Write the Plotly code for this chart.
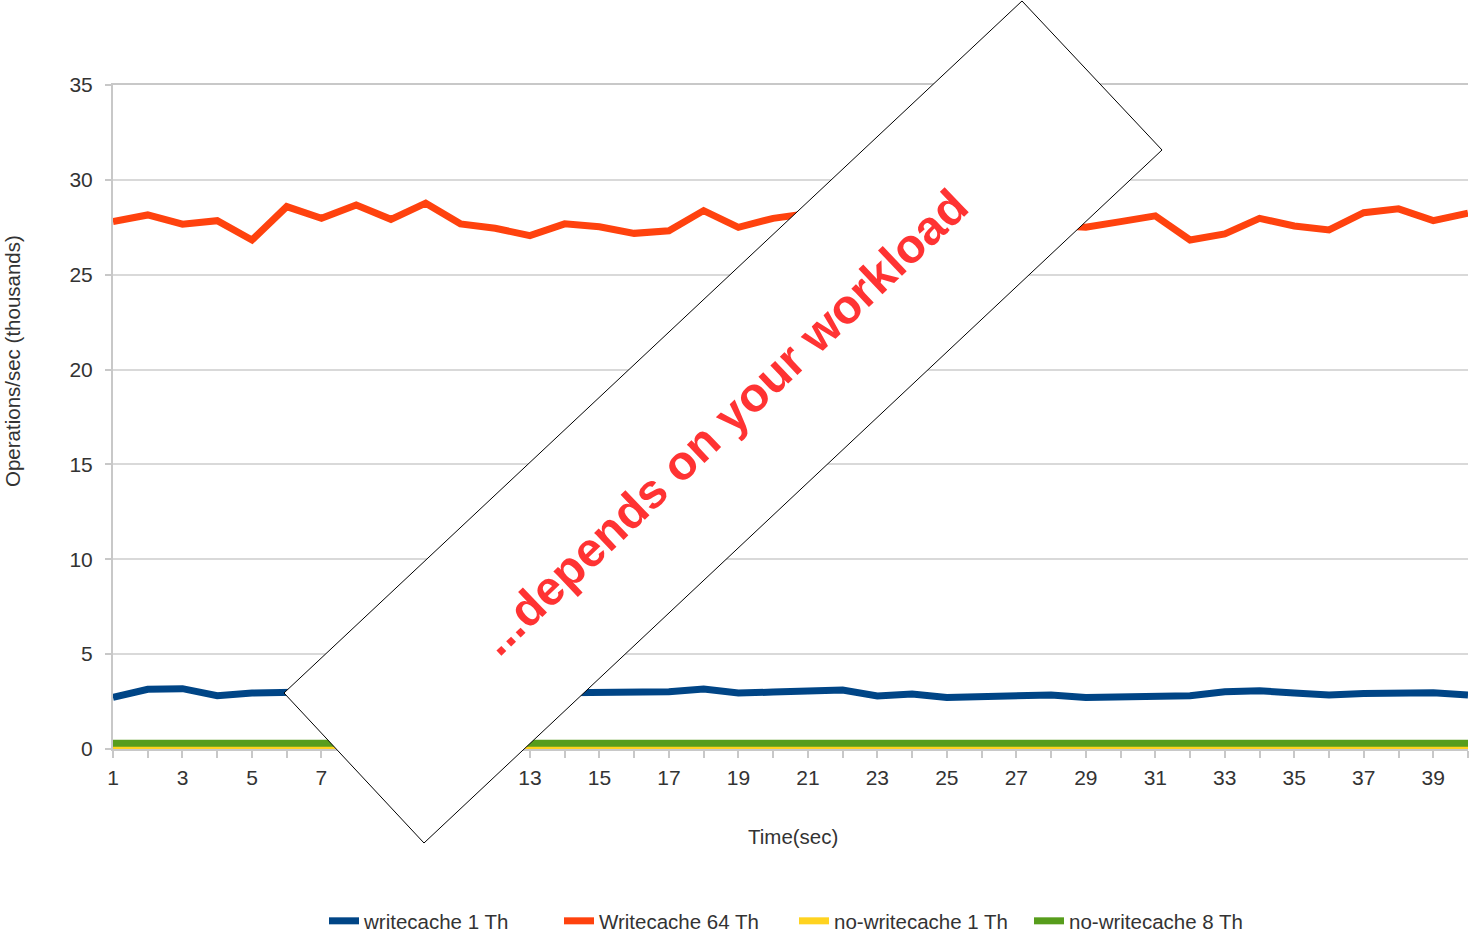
import plotly.graph_objects as go

time_sec = list(range(1, 41))
tick_labels = [str(t) if t % 2 == 1 else "" for t in time_sec]

writecache_1th = [2.72, 3.15, 3.18, 2.81, 2.95, 3.00, 3.02, 2.98, 3.05, 2.95, 3.00, 2.97, 3.02, 2.97,
                  2.97, 2.97, 3.02, 3.16, 2.95, 3.00, 3.06, 3.11, 2.79, 2.90, 2.71, 2.76, 2.76, 2.85,
                  2.72, 2.72, 2.81, 2.81, 3.02, 3.07, 2.95, 2.85, 2.92, 2.97, 2.97, 2.85]
writecache_64th = [27.80, 28.15, 27.66, 27.85, 26.83, 28.59, 27.97, 28.68, 27.92, 28.77, 27.68, 27.45,
                   27.06, 27.68, 27.53, 27.18, 27.32, 28.38, 27.50, 27.97, 28.22, 27.70, 28.00, 27.40,
                   27.90, 28.10, 27.70, 27.60, 27.50, 27.80, 28.10, 26.83, 27.15, 27.97, 27.57, 27.36,
                   28.27, 28.47, 27.85, 28.24]
nowritecache_1th = [0.05] * 40
nowritecache_8th = [0.30] * 25 + [0.22] + [0.30] * 14

series = [
    ("writecache 1 Th", writecache_1th, "#004586"),
    ("Writecache 64 Th", writecache_64th, "#ff420e"),
    ("no-writecache 1 Th", nowritecache_1th, "#ffd320"),
    ("no-writecache 8 Th", nowritecache_8th, "#579d1c"),
]

FONT = "Liberation Sans, Arial, sans-serif"

fig = go.Figure()
for name, vals, col in series:
    fig.add_trace(go.Scatter(x=time_sec, y=vals, mode="lines", name=name,
                             line=dict(color=col, width=7)))

W, H = 1470, 932
L, R, T = 113, 2, 85
PLOT_BOTTOM = 749
B = H - PLOT_BOTTOM
pw, ph = W - L - R, PLOT_BOTTOM - T


def px2paper(px, py):
    return (px - L) / pw, (PLOT_BOTTOM - py) / ph


corners = [(1022, 1), (1162, 150), (424, 843), (284, 693)]
pts = [px2paper(*c) for c in corners]
path = "M " + " L ".join(f"{x:.5f},{y:.5f}" for x, y in pts) + " Z"

fig.add_shape(type="path", path=path, xref="paper", yref="paper",
              fillcolor="white", line=dict(color="black", width=1), layer="above")

cx, cy = px2paper(723, 422)
fig.add_annotation(text="...depends on your workload", x=cx, y=cy, xref="paper", yref="paper",
                   showarrow=False, textangle=-43.5,
                   font=dict(family=FONT, size=48, color="#ff3333", weight="bold"),
                   xanchor="center", yanchor="middle")

ax, ay = px2paper(13, 361)
fig.add_annotation(text="Operations/sec (thousands)", x=ax, y=ay, xref="paper", yref="paper",
                   showarrow=False, textangle=-90,
                   font=dict(family=FONT, size=20.5, color="#333333"),
                   xanchor="center", yanchor="middle")
tx, ty = px2paper(793, 836)
fig.add_annotation(text="Time(sec)", x=tx, y=ty, xref="paper", yref="paper",
                   showarrow=False,
                   font=dict(family=FONT, size=20.5, color="#333333"),
                   xanchor="center", yanchor="middle")

fig.update_layout(
    width=W, height=H,
    margin=dict(l=L, r=R, t=T, b=B, autoexpand=False),
    paper_bgcolor="white", plot_bgcolor="white",
    font=dict(family=FONT, size=20, color="#333333"),
    showlegend=True,
    legend=dict(orientation="h", xref="container", yref="container",
                x=794 / W, y=1 - 921 / H, xanchor="center", yanchor="middle",
                entrywidth=190, entrywidthmode="pixels",
                font=dict(size=20.5, color="#333333"), tracegroupgap=0),
    xaxis=dict(range=[1, 40], tickmode="array", tickvals=time_sec, ticktext=tick_labels,
               showgrid=False, zeroline=False, showline=True, linecolor="#c8c8c8", linewidth=2,
               mirror=True, ticks="outside", ticklen=7, tickcolor="#c8c8c8", tickwidth=2,
               ticklabelstandoff=2,
               tickfont=dict(size=21, color="#333333")),
    yaxis=dict(range=[0, 35], tickmode="array", tickvals=[0, 5, 10, 15, 20, 25, 30, 35],
               showgrid=True, gridcolor="#d9d9d9", gridwidth=2, zeroline=False,
               showline=True, linecolor="#c8c8c8", linewidth=2,
               ticks="outside", ticklen=6, tickcolor="#c8c8c8", tickwidth=2,
               ticklabelstandoff=8,
               tickfont=dict(size=21, color="#333333")),
)

fig.write_html("out.html")
